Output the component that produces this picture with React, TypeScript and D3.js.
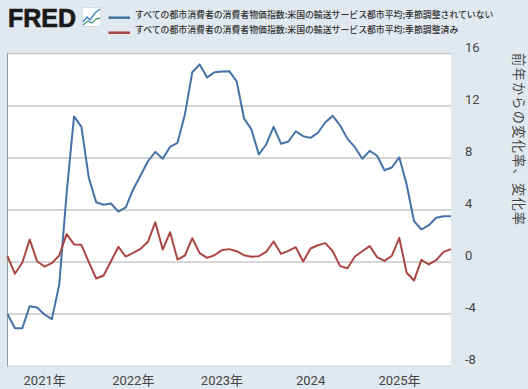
import React from "react";
import * as d3 from "d3";

const startMonth = new Date(2020, 7, 1);
const nsaValues = [-4.0,-5.1,-5.1,-3.4,-3.5,-4.04,-4.4,-1.73,5.3,11.2,10.4,6.47,4.6,4.4,4.5,3.88,4.2,5.58,6.65,7.75,8.47,7.94,8.86,9.17,11.35,14.6,15.2,14.2,14.6,14.65,14.68,13.9,11.04,10.2,8.27,9.04,10.4,9.1,9.27,10.06,9.68,9.55,9.94,10.75,11.24,10.5,9.47,8.83,7.94,8.55,8.17,7.06,7.27,8.06,5.96,3.14,2.5,2.83,3.4,3.52,3.52];
const saValues = [0.45,-0.9,-0.06,1.73,0.06,-0.35,-0.09,0.5,2.14,1.35,1.32,-0.01,-1.27,-1.04,0.06,1.17,0.42,0.7,1.01,1.55,3.06,0.96,2.29,0.19,0.5,1.83,0.68,0.32,0.52,0.91,0.99,0.83,0.52,0.4,0.45,0.78,1.58,0.63,0.86,1.14,0.04,1.04,1.29,1.45,0.83,-0.32,-0.48,0.42,0.83,1.22,0.37,0.09,0.48,1.86,-0.83,-1.42,0.17,-0.19,0.14,0.78,0.99];
const yTicks = [16,12,8,4,0,-4,-8];
const xTickYears = [2021,2022,2023,2024,2025];
const xTickLabels = ["2021年","2022年","2023年","2024","2025年"];
const legendLabels = [
  "すべての都市消費者の消費者物価指数:米国の輸送サービス都市平均;季節調整されていない",
  "すべての都市消費者の消費者物価指数:米国の輸送サービス都市平均:季節調整済み",
];
const axisTitle = "前年からの変化率、変化率";

const BLUE = "#4572a7";
const RED = "#aa4643";
const BG = "#e1e9f0";
const GRID = "#c8c8c8";
const TEXT = "#444";
const FONT = "Roboto, 'Noto Sans CJK JP', sans-serif";
const CJK = "'Noto Sans CJK JP', sans-serif";

const dateAt = (i: number) => d3.timeMonth.offset(startMonth, i);

export default function App() {
  const L = 7.5, R = 451, T = 54, B = 366;
  const x = d3.scaleTime().domain([dateAt(0), dateAt(60)]).range([L, R]);
  const xi = d3.scaleLinear().domain([0, 60]).range([L, R]);
  const y = d3.scaleLinear().domain([-8, 16]).range([B, T]);
  const line = d3.line<number>().x((_, i) => xi(i)).y((d) => y(d));

  return (
    <svg width={528} height={389} style={{ position: "fixed", left: 0, top: 0, display: "block" }}>
      <rect width={528} height={389} fill={BG} />
      <rect x={L} y={T} width={R - L} height={B - T} fill="#fff" />
      <line x1={L} x2={R} y1={T - 0.5} y2={T - 0.5} stroke={GRID} strokeWidth={1.5} />
      {yTicks.filter((t) => t !== -8 && t !== 16).map((t) => (
        <line key={t} x1={L} x2={R} y1={y(t)} y2={y(t)} stroke={GRID} strokeWidth={1.5} />
      ))}
      <line x1={L} x2={L} y1={T - 1} y2={B + 1} stroke="#9a9a9a" strokeWidth={1} />
      <line x1={L} x2={R} y1={B} y2={B} stroke="#c9d2da" strokeWidth={1} />
      {xTickYears.map((yr) => (
        <line key={yr} x1={x(new Date(yr, 0, 1))} x2={x(new Date(yr, 0, 1))} y1={B} y2={B + 7} stroke="#d5dde5" strokeWidth={1} />
      ))}
      {xTickYears.map((yr, i) => (
        <text key={yr} x={x(new Date(yr, 0, 1))} y={385} textAnchor="middle" fontSize={13} fontFamily={FONT} fill={TEXT}>
          {xTickLabels[i]}
        </text>
      ))}
      {yTicks.map((t) => (
        <text key={t} x={465} y={y(t) - 2.5} fontSize={13} fontFamily={FONT} fill={TEXT}>
          {t}
        </text>
      ))}
      <path d={line(nsaValues) ?? ""} fill="none" stroke={BLUE} strokeWidth={2} strokeLinejoin="round" />
      <path d={line(saValues) ?? ""} fill="none" stroke={RED} strokeWidth={2} strokeLinejoin="round" />

      <text x={8} y={26.5} fontFamily="'Liberation Sans', sans-serif" fontWeight={700} fontSize={25.6} fill="#1a1a1a" stroke="#1a1a1a" strokeWidth={0.7} textLength={68} lengthAdjust="spacingAndGlyphs">
        FRED
      </text>
      <rect x={82.5} y={7.5} width={18} height={19} fill="#fff" stroke="#c4ccd4" strokeWidth={0.6} />
      <path d="M83 22 L87 17 L90 20 L95 13 L100 9" fill="none" stroke="#3a7fc0" strokeWidth={1.3} />
      <path d="M83 25 L88 21 L92 23 L96 19 L100 18" fill="none" stroke="#4a9a7a" strokeWidth={1.3} />

      {legendLabels.map((lab, i) => (
        <g key={i}>
          <line x1={108.5} x2={130} y1={17.7 + i * 15} y2={17.7 + i * 15} stroke={i === 0 ? BLUE : RED} strokeWidth={2.5} />
          <text x={135} y={18 + i * 15} fontSize={8.87} fontWeight={500} fontFamily={CJK} fill="#333">
            {lab}
          </text>
        </g>
      ))}
      <text transform="translate(514,53) rotate(90)" fontSize={13.2} fontFamily={CJK} fill={TEXT} textLength={172}>
        {axisTitle}
      </text>
    </svg>
  );
}
